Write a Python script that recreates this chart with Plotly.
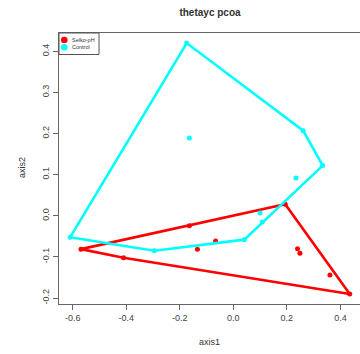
import plotly.graph_objects as go

# ---------------- data ----------------
selko_x = [-0.569, -0.410, -0.164, -0.134, -0.066, 0.194, 0.240, 0.249, 0.361, 0.435]
selko_y = [-0.081, -0.102, -0.024, -0.081, -0.061, 0.028, -0.080, -0.091, -0.144, -0.190]

control_x = [-0.174, -0.164, 0.261, 0.334, 0.234, 0.100, 0.108, 0.041, -0.609, -0.295]
control_y = [0.420, 0.189, 0.207, 0.122, 0.092, 0.007, -0.015, -0.058, -0.052, -0.085]

series_names = ["Selko-pH", "Control"]
series_colors = ["#FF0000", "#00FFFF"]

x_tick_vals = [-0.6, -0.4, -0.2, 0.0, 0.2, 0.4]
x_tick_text = ["-0.6", "-0.4", "-0.2", "0.0", "0.2", "0.4"]
y_tick_vals = [-0.2, -0.1, 0.0, 0.1, 0.2, 0.3, 0.4]
y_tick_text = ["-0.2", "-0.1", "0.0", "0.1", "0.2", "0.3", "0.4"]


def convex_hull(xs, ys):
    pts = sorted(set(zip(xs, ys)))
    if len(pts) <= 2:
        return pts

    def cross(o, a, b):
        return (a[0] - o[0]) * (b[1] - o[1]) - (a[1] - o[1]) * (b[0] - o[0])

    lower = []
    for p in pts:
        while len(lower) >= 2 and cross(lower[-2], lower[-1], p) <= 0:
            lower.pop()
        lower.append(p)
    upper = []
    for p in reversed(pts):
        while len(upper) >= 2 and cross(upper[-2], upper[-1], p) <= 0:
            upper.pop()
        upper.append(p)
    return lower[:-1] + upper[:-1]


FONT = "Liberation Sans, Arial, Helvetica, sans-serif"
fig = go.Figure()

for name, xs, ys, col in [
    (series_names[0], selko_x, selko_y, series_colors[0]),
    (series_names[1], control_x, control_y, series_colors[1]),
]:
    hull = convex_hull(xs, ys)
    hull = hull + [hull[0]]
    fig.add_trace(go.Scatter(
        x=[p[0] for p in hull], y=[p[1] for p in hull],
        mode="lines", line=dict(color=col, width=2.6),
        showlegend=False, hoverinfo="skip",
    ))
    fig.add_trace(go.Scatter(
        x=xs, y=ys, mode="markers", name=name,
        marker=dict(color=col, size=5, line=dict(width=0)),
        showlegend=False,
    ))

# plot area in pixels: x 59..360, y 33..304
W, H = 360, 354
L, T, B = 59, 33, 50
pw, ph = W - L, H - T - B


def px(xp):
    return (xp - L) / pw


def py(yp):
    return (H - B - yp) / ph


shapes = [
    # legend box
    dict(type="rect", xref="paper", yref="paper",
         x0=px(59), x1=px(99), y0=py(54.5), y1=py(33),
         line=dict(color="#555555", width=1), fillcolor="white", layer="above"),
]
annotations = []
for i, (name, col) in enumerate(zip(series_names, series_colors)):
    cy = 40 + i * 7.3
    shapes.append(dict(type="circle", xref="paper", yref="paper",
                       x0=px(61), x1=px(67.6), y0=py(cy + 3.3), y1=py(cy - 3.3),
                       fillcolor=col, line=dict(width=0), layer="above"))
    annotations.append(dict(text=name, xref="paper", yref="paper",
                            x=px(69.5), y=py(cy), xanchor="left", yanchor="middle",
                            showarrow=False, font=dict(size=5.5, color="#333333", family=FONT)))

annotations.append(dict(text="axis1", xref="paper", yref="paper",
                        x=px(209), y=py(342), xanchor="center", yanchor="middle",
                        showarrow=False, font=dict(size=9, color="#333333", family=FONT)))
annotations.append(dict(text="axis2", xref="paper", yref="paper",
                        x=px(22), y=py(168), xanchor="center", yanchor="middle",
                        textangle=-90, showarrow=False,
                        font=dict(size=9, color="#333333", family=FONT)))

fig.update_layout(
    width=W, height=H,
    margin=dict(l=L, r=0, t=T, b=B),
    paper_bgcolor="white", plot_bgcolor="white",
    title=dict(text="<b>thetayc pcoa</b>", x=px(210), xref="paper",
               y=1 - 12.5 / H, yref="container", xanchor="center", yanchor="middle",
               font=dict(size=10, color="#333333", family=FONT)),
    xaxis=dict(range=[-0.651, 0.4733], showgrid=False, zeroline=False,
               showline=True, mirror=True, linecolor="#666666", linewidth=1,
               ticks="outside", ticklen=5, tickcolor="#666666",
               tickvals=x_tick_vals, ticktext=x_tick_text,
               tickfont=dict(size=9, color="#444444", family=FONT)),
    yaxis=dict(range=[-0.2144, 0.4444], showgrid=False, zeroline=False,
               showline=True, mirror=False, linecolor="#666666", linewidth=1,
               ticks="outside", ticklen=5, tickcolor="#666666",
               tickvals=y_tick_vals, ticktext=y_tick_text, tickangle=-90,
               tickfont=dict(size=9, color="#444444", family=FONT)),
    shapes=shapes, annotations=annotations,
    showlegend=False,
)

fig.write_html("out.html")
